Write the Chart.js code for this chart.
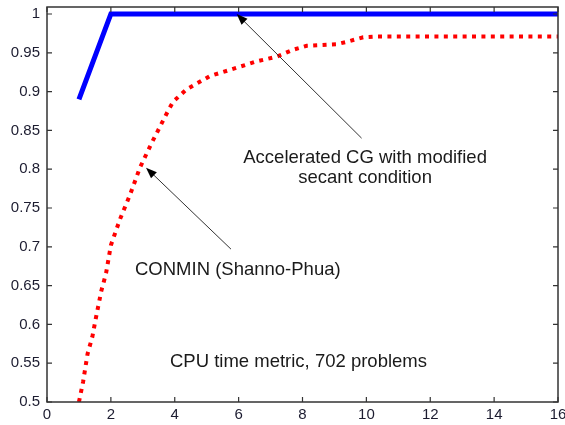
<!DOCTYPE html>
<html>
<head>
<meta charset="utf-8">
<script src="https://cdn.jsdelivr.net/npm/chart.js@4/dist/chart.umd.min.js"></script>
<style>
html,body{margin:0;padding:0;background:#fff;}
#c{display:block;}
</style>
</head>
<body>
<canvas id="c" width="565" height="425"></canvas>
<script>
// ---- data ----
const xTicks = [0, 2, 4, 6, 8, 10, 12, 14, 16];
const yTicks = [0.5, 0.55, 0.6, 0.65, 0.7, 0.75, 0.8, 0.85, 0.9, 0.95, 1];

const accelX = [1, 2, 16];
const accelY = [0.89, 1, 1];

const conminX = [1.0, 1.13, 1.27, 1.42, 1.53, 1.70, 1.85, 2.0, 2.29, 2.60, 2.91, 3.28, 3.54, 3.80, 3.95, 4.16, 4.37, 4.63, 5.10, 5.73, 6.57, 7.19, 7.71, 8.13, 9.07, 9.38, 9.90, 10.32, 16];
const conminY = [0.50, 0.526, 0.562, 0.584, 0.608, 0.643, 0.666, 0.702, 0.736, 0.767, 0.802, 0.834, 0.855, 0.876, 0.887, 0.895, 0.903, 0.909, 0.920, 0.928, 0.939, 0.945, 0.954, 0.959, 0.961, 0.964, 0.970, 0.971, 0.971];

// annotations (in data units)
const accelLabel = ["Accelerated CG with modified", "secant condition"];
const accelLabelPos = [9.96, 0.808];
const accelArrow = {from: [9.85, 0.840], to: [5.94, 1.0]};
const conminLabel = "CONMIN (Shanno-Phua)";
const conminLabelPos = [2.755, 0.664];
const conminArrow = {from: [5.76, 0.697], to: [3.10, 0.802]};
const noteLabel = "CPU time metric, 702 problems";
const noteLabelPos = [3.85, 0.545];

const toPts = (xs, ys) => xs.map((x, i) => ({x: x, y: ys[i]}));

const FONT = '"Liberation Sans", Arial, Helvetica, sans-serif';

const zeroPad = s => { s.paddingLeft = 0; s.paddingRight = 0; s.paddingTop = 0; s.paddingBottom = 0; };

const frame = {
  id: 'frame',
  beforeDraw(chart) {
    const {ctx, width, height} = chart;
    ctx.save();
    ctx.fillStyle = '#fff';
    ctx.fillRect(0, 0, width, height);
    ctx.restore();
  },
  afterDatasetsDraw(chart) {
    const {ctx, chartArea: a, scales: {x, y}} = chart;
    ctx.save();
    ctx.strokeStyle = '#333';
    ctx.lineWidth = 1.5;
    ctx.strokeRect(a.left, a.top, a.right - a.left, a.bottom - a.top);
    ctx.lineWidth = 1.2;
    const tl = 5;
    ctx.beginPath();
    xTicks.forEach(v => {
      const px = x.getPixelForValue(v);
      ctx.moveTo(px, a.bottom); ctx.lineTo(px, a.bottom - tl);
      ctx.moveTo(px, a.top); ctx.lineTo(px, a.top + tl);
    });
    yTicks.forEach(v => {
      const py = y.getPixelForValue(v);
      ctx.moveTo(a.left, py); ctx.lineTo(a.left + tl, py);
      ctx.moveTo(a.right, py); ctx.lineTo(a.right - tl, py);
    });
    ctx.stroke();

    // arrows
    const arrow = (ar) => {
      const x0 = x.getPixelForValue(ar.from[0]), y0 = y.getPixelForValue(ar.from[1]);
      const x1 = x.getPixelForValue(ar.to[0]), y1 = y.getPixelForValue(ar.to[1]);
      const ang = Math.atan2(y1 - y0, x1 - x0);
      const L = 11, W = 4.2;
      ctx.strokeStyle = '#333';
      ctx.lineWidth = 1;
      ctx.beginPath();
      ctx.moveTo(x0, y0);
      ctx.lineTo(x1 - Math.cos(ang) * L * 0.8, y1 - Math.sin(ang) * L * 0.8);
      ctx.stroke();
      ctx.fillStyle = '#000';
      ctx.beginPath();
      ctx.moveTo(x1, y1);
      ctx.lineTo(x1 - Math.cos(ang) * L - Math.sin(ang) * W, y1 - Math.sin(ang) * L + Math.cos(ang) * W);
      ctx.lineTo(x1 - Math.cos(ang) * L + Math.sin(ang) * W, y1 - Math.sin(ang) * L - Math.cos(ang) * W);
      ctx.closePath();
      ctx.fill();
    };
    arrow(accelArrow);
    arrow(conminArrow);

    // texts
    ctx.fillStyle = '#1a1a1a';
    ctx.font = '18.5px ' + FONT;
    ctx.textBaseline = 'alphabetic';
    ctx.textAlign = 'center';
    const ax = x.getPixelForValue(accelLabelPos[0]), ay = y.getPixelForValue(accelLabelPos[1]);
    accelLabel.forEach((t, i) => ctx.fillText(t, ax, ay + i * 20));
    ctx.textAlign = 'left';
    ctx.fillText(conminLabel, x.getPixelForValue(conminLabelPos[0]), y.getPixelForValue(conminLabelPos[1]));
    ctx.fillText(noteLabel, x.getPixelForValue(noteLabelPos[0]), y.getPixelForValue(noteLabelPos[1]));
    ctx.restore();
  }
};

new Chart(document.getElementById('c'), {
  type: 'scatter',
  data: {
    datasets: [
      {
        label: 'Accelerated CG with modified secant condition',
        data: toPts(accelX, accelY),
        showLine: true,
        borderColor: '#0000ff',
        borderWidth: 5,
        pointRadius: 0,
        fill: false,
        tension: 0
      },
      {
        label: 'CONMIN (Shanno-Phua)',
        data: toPts(conminX, conminY),
        showLine: true,
        borderColor: '#ff0000',
        borderWidth: 4,
        borderDash: [4, 5.4],
        borderCapStyle: 'butt',
        pointRadius: 0,
        fill: false,
        tension: 0
      }
    ]
  },
  options: {
    responsive: false,
    animation: false,
    devicePixelRatio: 1,
    layout: {padding: {top: 7, right: 7, left: 0, bottom: 0}},
    plugins: {legend: {display: false}, tooltip: {enabled: false}},
    scales: {
      x: {
        type: 'linear',
        min: 0, max: 16,
        grid: {display: false, drawTicks: false},
        border: {display: false},
        afterBuildTicks: s => { s.ticks = xTicks.map(v => ({value: v})); },
        afterFit: s => { s.height = 23; zeroPad(s); },
        ticks: {
          padding: 4,
          maxRotation: 0,
          autoSkip: false,
          color: '#1c1c30',
          font: {family: FONT, size: 15},
          callback: v => String(v)
        }
      },
      y: {
        type: 'linear',
        min: 0.5, max: 1.009,
        grid: {display: false, drawTicks: false},
        border: {display: false},
        afterBuildTicks: s => { s.ticks = yTicks.map(v => ({value: v})); },
        afterFit: s => { s.width = 47; zeroPad(s); },
        ticks: {
          padding: 7,
          autoSkip: false,
          color: '#1c1c30',
          font: {family: FONT, size: 15},
          callback: v => String(Math.round(v * 100) / 100)
        }
      }
    }
  },
  plugins: [frame]
});
</script>
</body>
</html>
